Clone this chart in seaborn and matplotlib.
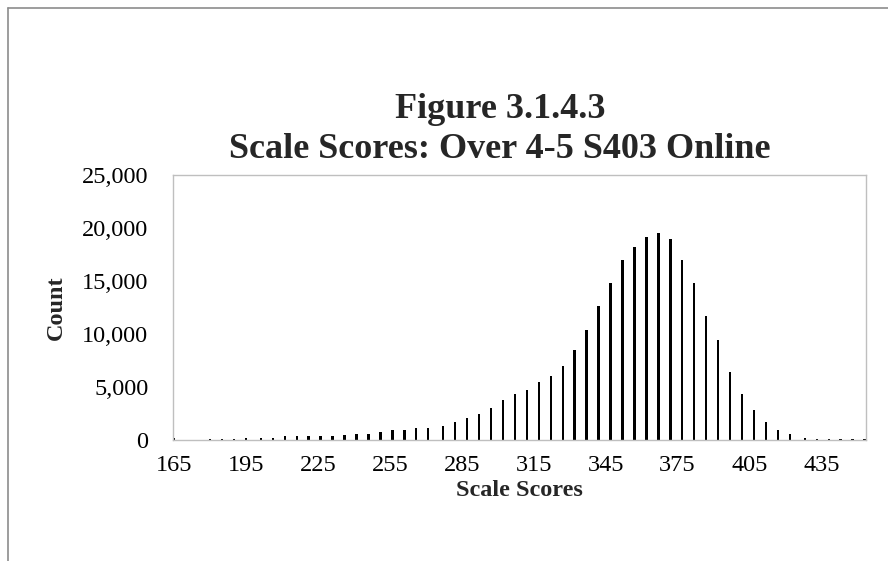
import numpy as np
import pandas as pd
import matplotlib.pyplot as plt
import seaborn as sns
from matplotlib.lines import Line2D
from matplotlib.ticker import FuncFormatter

# scale scores and number of students at each score
scores = [165, 180, 185, 190, 195, 201, 206, 211, 216, 221, 226, 231, 236,
          241, 246, 251, 256, 261, 266, 271, 277, 282, 287, 292, 297, 302,
          307, 312, 317, 322, 327, 332, 337, 342, 347, 352, 357, 362, 367,
          372, 377, 382, 387, 392, 397, 402, 407, 412, 417, 422, 428, 433,
          438, 443, 448, 453]
counts = [150, 120, 120, 130, 150, 170, 190, 360, 370, 380, 390, 400, 450,
          570, 580, 760, 950, 960, 1140, 1150, 1330, 1700, 2080, 2460, 3030, 3780,
          4350, 4720, 5470, 6010, 6950, 8460, 10350, 12610, 14840, 16980, 18230, 19170, 19550,
          18990, 16950, 14840, 11700, 9400, 6410, 4310, 2830, 1670, 940, 570, 150, 130,
          110, 100, 100, 100]
xtick_vals = [165, 195, 225, 255, 285, 315, 345, 375, 405, 435]
ytick_vals = [0, 5000, 10000, 15000, 20000, 25000]

df = pd.DataFrame({'Scale Scores': scores, 'Count': counts})

sns.set_style('white')
plt.rcParams['font.family'] = ['Liberation Serif', 'DejaVu Serif']

W, H = 888, 561
fig = plt.figure(figsize=(W / 100, H / 100), dpi=100)
ax = fig.add_axes([172.7 / W, 1 - 440 / H, (865.5 - 172.7) / W, 265 / H])

sns.barplot(data=df, x='Scale Scores', y='Count', native_scale=True, color='black',
            saturation=1, width=0.18, linewidth=0, ax=ax)

ax.set_xlim(164.3, 453.4)
ax.set_ylim(0, 25000)
ax.set_xticks(xtick_vals)
ax.set_yticks(ytick_vals)
ax.yaxis.set_major_formatter(FuncFormatter(lambda v, p: f'{int(v):,}'))

grey = '#bfbfbf'
for s in ax.spines.values():
    s.set_visible(True)
    s.set_color(grey)
    s.set_linewidth(1.0)
ax.tick_params(axis='both', which='major', direction='out', length=5.5, width=1.0,
               color=grey, labelsize=17.5, labelcolor='black')
ax.tick_params(axis='x', pad=5)
ax.tick_params(axis='y', pad=12)

ax.set_xlabel('Scale Scores', fontsize=17.5, fontweight='bold', labelpad=3)
ax.set_ylabel('Count', fontsize=17.5, fontweight='bold', labelpad=11)

fig.text(500 / W, 1 - 118 / H, 'Figure 3.1.4.3', ha='center', va='baseline',
         fontsize=26, fontweight='bold')
fig.text(500 / W, 1 - 158 / H, 'Scale Scores: Over 4-5 S403 Online', ha='center',
         va='baseline', fontsize=26, fontweight='bold')

# outer chart border (only top and left edges are visible in the crop)
fig.add_artist(Line2D([7.5 / W, 7.5 / W], [0, 1 - 8 / H], transform=fig.transFigure,
                      color='#8c8c8c', linewidth=1.2))
fig.add_artist(Line2D([7.5 / W, 1], [1 - 8 / H, 1 - 8 / H], transform=fig.transFigure,
                      color='#8c8c8c', linewidth=1.2))

fig.savefig('out.png', dpi=100, facecolor='white')
